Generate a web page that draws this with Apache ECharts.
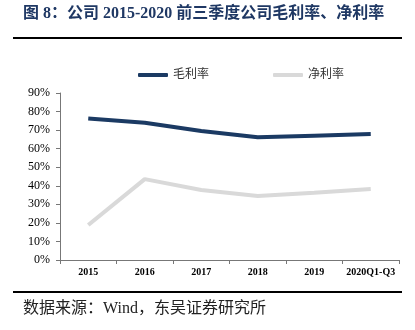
<!DOCTYPE html>
<html>
<head>
<meta charset="utf-8">
<script src="https://cdn.jsdelivr.net/npm/echarts@6/dist/echarts.min.js"></script>
<style>html,body{margin:0;padding:0;background:#fff;}#c{width:415px;height:330px;}</style>
</head>
<body>
<div id="c"></div>
<script>
var categories = ['2015', '2016', '2017', '2018', '2019', '2020Q1-Q3'];
var grossMargin = [76.3, 74.0, 69.5, 66.1, 67.0, 67.9];
var netMargin = [18.9, 43.6, 37.7, 34.5, 36.3, 38.2];
var yTicks = [0, 10, 20, 30, 40, 50, 60, 70, 80, 90];

var chart = echarts.init(document.getElementById('c'), null, {renderer: 'canvas'});
var serif = '"Liberation Serif", "Times New Roman", serif';
var cjk = '"Liberation Serif", "Noto Sans CJK SC", serif';
chart.setOption({
  animation: false,
  backgroundColor: '#fff',
  graphic: [
    {type: 'text', left: 23, top: 6, style: {text: '图 8：公司 2015-2020 前三季度公司毛利率、净利率', font: 'bold 16px ' + cjk, fill: '#1f3864'}},
    {type: 'line', shape: {x1: 13, y1: 38, x2: 402, y2: 38}, style: {stroke: '#000', lineWidth: 2}},
    {type: 'line', shape: {x1: 13, y1: 292, x2: 402, y2: 292}, style: {stroke: '#000', lineWidth: 2}},
    {type: 'text', left: 23, top: 301, style: {text: '数据来源：Wind，东吴证券研究所', font: '16px ' + cjk, fill: '#222'}}
  ],
  legend: {
    top: 64, left: 133, itemGap: 64, itemWidth: 30, itemHeight: 4,
    icon: 'roundRect',
    textStyle: {fontFamily: cjk, fontSize: 12, color: '#333'},
    data: ['毛利率', '净利率']
  },
  grid: {left: 60, right: 16, top: 93, bottom: 70},
  xAxis: {
    type: 'category', data: categories, boundaryGap: true,
    axisLine: {lineStyle: {color: '#777'}},
    axisTick: {show: true, inside: false, length: 4, lineStyle: {color: '#777'}},
    axisLabel: {fontFamily: serif, fontWeight: 'bold', fontSize: 10, color: '#000', margin: 7, interval: 0}
  },
  yAxis: {
    type: 'value', min: 0, max: 90, interval: 10,
    axisLine: {show: true, lineStyle: {color: '#777'}},
    axisTick: {show: true, length: 4, lineStyle: {color: '#777'}},
    splitLine: {show: false},
    axisLabel: {fontFamily: serif, fontSize: 12, color: '#000', margin: 10,
      formatter: function (v) { return yTicks.indexOf(v) >= 0 ? v + '%' : ''; }}
  },
  series: [
    {name: '毛利率', type: 'line', data: grossMargin, symbol: 'none', smooth: false,
      lineStyle: {color: '#1b3a63', width: 4}, itemStyle: {color: '#1b3a63'}},
    {name: '净利率', type: 'line', data: netMargin, symbol: 'none',
      lineStyle: {color: '#d9d9d9', width: 4}, itemStyle: {color: '#d9d9d9'}}
  ]
});
</script>
</body>
</html>
